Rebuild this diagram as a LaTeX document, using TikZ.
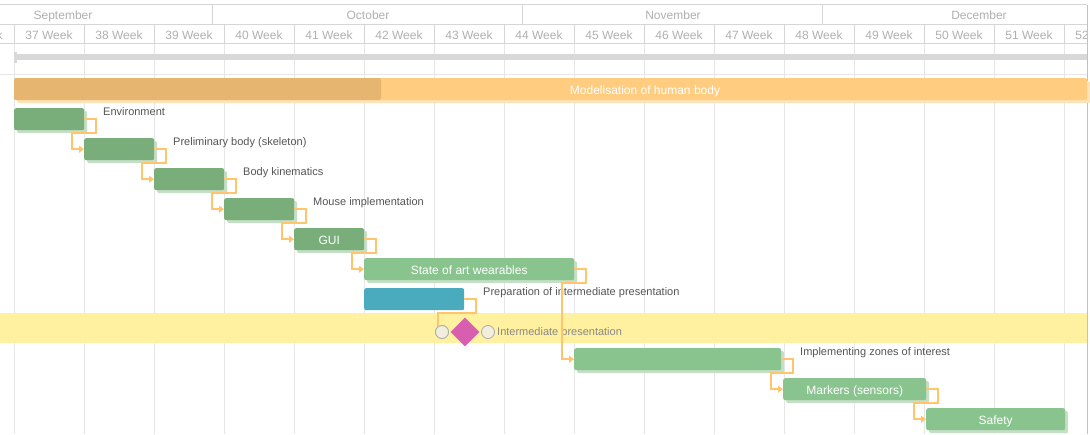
\documentclass[tikz,border=0pt]{standalone}
\usepackage{fontspec}
\setmainfont{Liberation Sans}
\usetikzlibrary{shapes.geometric,shadows,arrows.meta,calc}
\definecolor{gridc}{HTML}{E6E6E6}
\definecolor{hdrc}{HTML}{D6D6D6}
\definecolor{hdrtext}{HTML}{B0B0B0}
\definecolor{progc}{HTML}{D8D8D8}
\definecolor{orlight}{HTML}{FFCC80}
\definecolor{ordark}{HTML}{E6B56F}
\definecolor{orshadow}{HTML}{FFE3B8}
\definecolor{gdark}{HTML}{79AE7B}
\definecolor{glight}{HTML}{89C48E}
\definecolor{gshadow}{HTML}{C4DFC6}
\definecolor{pblue}{HTML}{4AABBF}
\definecolor{linkc}{HTML}{FFC46C}
\definecolor{bandc}{HTML}{FFF1A0}
\definecolor{magc}{HTML}{D85FB0}
\definecolor{circfill}{HTML}{F1EEDD}
\definecolor{circdraw}{HTML}{ABABAB}
\definecolor{lbltext}{HTML}{555555}
\definecolor{mstext}{HTML}{888888}
\begin{document}
\begin{tikzpicture}[x=1pt,y=-1pt,
  grid/.style={draw=gridc, line width=1pt},
  hdr/.style={draw=hdrc, line width=1pt},
  hdrlbl/.style={anchor=base, text=hdrtext, font=\fontsize{12}{14}\selectfont, inner sep=0pt},
  bar/.style={rectangle, rounded corners=2pt, minimum height=22pt, inner sep=0pt,
    anchor=north west, text=white, font=\fontsize{12}{14}\selectfont,
    text depth=0pt, text height=10pt},
  gshad/.style={drop shadow={shadow xshift=3pt,shadow yshift=-3pt,fill=gshadow,opacity=1}},
  dbar/.style={bar, fill=gdark, gshad},
  lbar/.style={bar, fill=glight, gshad},
  bbar/.style={bar, fill=pblue},
  lbl/.style={anchor=base west, text=lbltext, font=\fontsize{11}{13}\selectfont, inner sep=0pt},
  link/.style={draw=linkc, line width=2pt, -{Triangle[length=5pt,width=7pt]}},
  linkplain/.style={draw=linkc, line width=2pt},
  mcirc/.style={circle, fill=circfill, draw=circdraw, line width=0.8pt, minimum size=13pt, inner sep=0pt}
]
\useasboundingbox (0,0) rectangle (1090,434);
\fill[white] (0,0) rectangle (1090,434);

% vertical grid lines
\foreach \i in {0,...,15} \draw[grid] ({14+70*\i},43) -- ({14+70*\i},434);

% header
\begin{scope}
\clip (0,0) rectangle (1087,44);
\foreach \i in {-1,...,15} {
  \pgfmathtruncatemacro\wk{37+\i}
  \node[hdrlbl] (wk\wk) at ({49+70*\i},39.4) {\wk\ Week};
}
\end{scope}
\node[hdrlbl] (sep) at (63,19.4) {September};
\node[hdrlbl] (oct) at (368,19.4) {October};
\node[hdrlbl] (nov) at (673,19.4) {November};
\node[hdrlbl] (dec) at (979,19.4) {December};
\draw[hdr] (0,4.5) -- (1087,4.5);
\draw[hdr] (0,24) -- (1087,24);
\draw[hdr, line width=1.6pt] (0,43.5) -- (1087,43.5);
\foreach \x in {212,522,822} \draw[hdr] (\x,4.5) -- (\x,24);
\foreach \i in {0,...,15} \draw[hdr] ({14+70*\i},24) -- ({14+70*\i},43);
\draw[draw=hdrc!90!black, line width=1pt] (1087.5,4.5) -- (1087.5,434);

% overall progress row
\fill[progc] (14,54) rectangle (1087,60);
\fill[progc] (14,52) rectangle (16.5,62.5);
\draw[grid] (0,74) -- (1087,74);

% summary bar
\node[bar, fill=orlight, minimum width=1073pt,
  drop shadow={shadow xshift=3pt,shadow yshift=-3pt,fill=orshadow,opacity=1}] (sum) at (14,78) {};
\fill[ordark, rounded corners=2pt] (14,78) rectangle (381,100);
\node[anchor=base, text=white, font=\fontsize{12}{14}\selectfont, inner sep=0pt] (sumt) at (645,94.5) {Modelisation of human body};

% milestone band
\fill[bandc] (0,313) rectangle (1087,343);

% task bars
\node[dbar, minimum width=70pt] (env) at (14,108) {};
\node[dbar, minimum width=70pt] (prel) at (84,138) {};
\node[dbar, minimum width=70pt] (kin) at (154,168) {};
\node[dbar, minimum width=70pt] (mouse) at (224,198) {};
\node[dbar, minimum width=70pt] (gui) at (294,228) {GUI};
\node[lbar, minimum width=210pt] (state) at (364,258) {State of art wearables};
\node[bbar, minimum width=100pt] (prep) at (364,288) {};
\node[lbar, minimum width=207pt] (impl) at (574,348) {};
\node[lbar, minimum width=143pt] (mark) at (783,378) {Markers (sensors)};
\node[lbar, minimum width=139pt] (safe) at (926,408) {Safety};

% labels
\node[lbl] (envl) at (103,115.3) {Environment};
\node[lbl] (prell) at (173,145.3) {Preliminary body (skeleton)};
\node[lbl] (kinl) at (243,175.3) {Body kinematics};
\node[lbl] (mousel) at (313,205.3) {Mouse implementation};
\node[lbl] (prepl) at (483,295.3) {Preparation of intermediate presentation};
\node[lbl] (impll) at (800,355.3) {Implementing zones of interest};
\node[lbl, text=mstext] (msl) at (497,335.3) {Intermediate presentation};

% connectors
\draw[link] (env.east) -- ++(12,0) -- ++(0,14) -| ($(prel.west)+(-12,0)$) -- (prel.west);
\draw[link] (prel.east) -- ++(12,0) -- ++(0,14) -| ($(kin.west)+(-12,0)$) -- (kin.west);
\draw[link] (kin.east) -- ++(12,0) -- ++(0,14) -| ($(mouse.west)+(-12,0)$) -- (mouse.west);
\draw[link] (mouse.east) -- ++(12,0) -- ++(0,14) -| ($(gui.west)+(-12,0)$) -- (gui.west);
\draw[link] (gui.east) -- ++(12,0) -- ++(0,14) -| ($(state.west)+(-12,0)$) -- (state.west);
\draw[link] (state.east) -- ++(12,0) -- ++(0,14) -| ($(impl.west)+(-12,0)$) -- (impl.west);
\draw[link] (impl.east) -- ++(12,0) -- ++(0,14) -| ($(mark.west)+(-12,0)$) -- (mark.west);
\draw[link] (mark.east) -- ++(12,0) -- ++(0,14) -| ($(safe.west)+(-12,0)$) -- (safe.west);

% milestone
\node[mcirc] (c1) at (442,332) {};
\draw[linkplain] (prep.east) -- ++(12,0) -- ++(0,14) -| (c1.130);
\node[mcirc] (c1b) at (442,332) {};
\node[diamond, fill=magc, minimum size=29pt, inner sep=0pt] (ms) at (465,332) {};
\node[mcirc] (c2) at (488,332) {};
\end{tikzpicture}
\end{document}
